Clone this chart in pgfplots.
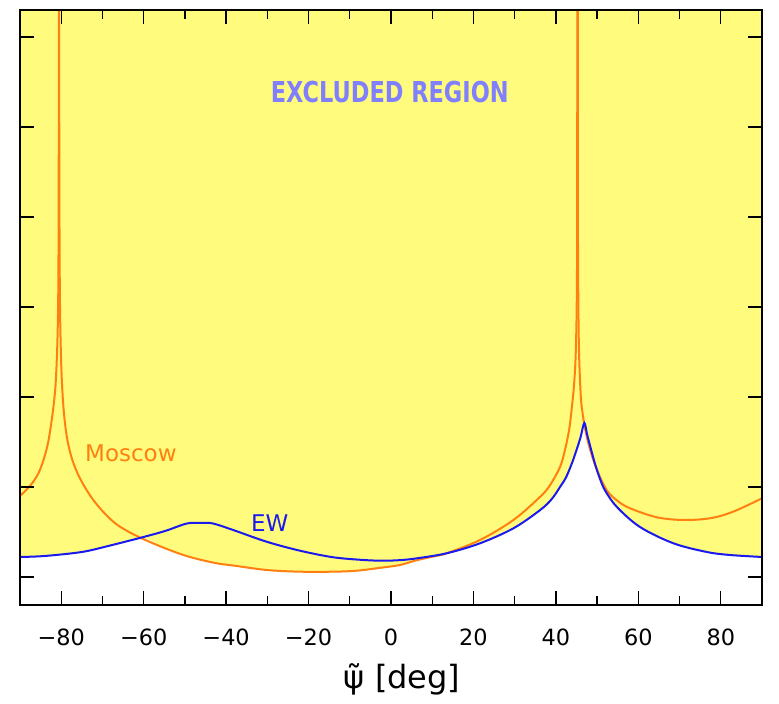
\documentclass[border=0pt]{standalone}
\usepackage{fontspec}
\setmainfont{DejaVu Sans}
\newfontfamily\condfont{DejaVu Sans}[FakeStretch=0.78]
\usepackage{pgfplots}
\pgfplotsset{compat=1.18}
\definecolor{excl}{HTML}{FFFB7D}
\definecolor{mos}{HTML}{FF8010}
\definecolor{ew}{HTML}{1A1AF0}
\definecolor{titlecol}{HTML}{8080FF}

\begin{document}
\begin{tikzpicture}
\begin{axis}[
  scale only axis, width=371pt, height=297.5pt,
  xmin=-90, xmax=90, ymin=0, ymax=595,
  xtick={-80,-60,-40,-20,0,20,40,60,80},
  xticklabels={−80,−60,−40,−20,0,20,40,60,80},
  minor x tick num=1,
  ytick={28,118,208,298,388,478,568},
  yticklabels={},
  major tick length=7pt, minor tick length=4.5pt,
  tick style={black, line width=0.7pt},
  axis line style={line width=0.9pt},
  axis background/.style={fill=excl},
  axis on top,
  xticklabel style={font=\fontsize{11.2}{13}\selectfont, anchor=base, yshift=-20.5pt},
  xlabel={ψ̃ [deg]},
  xlabel style={font=\fontsize{16}{18}\selectfont, at={(axis description cs:0.515,0)}, anchor=base, yshift=-42pt},
  every axis plot/.append style={smooth, tension=0.55},
]
% allowed region: below both curves
\addplot[fill=white, draw=none] coordinates {
  (-90,48) (-84,49) (-75,53) (-68.6,59) (-60.5,67)
  (-54.8,56.7) (-49.2,48.5) (-42.7,42) (-38.3,39.5) (-30.2,35) (-22.1,33.3)
  (-14,33.3) (-8.3,34.3) (-2,37.5) (2.2,40) (6,44.5) (10,48.3) (13.5,51.7)
  (21.6,61.7) (29.7,76.7) (36.2,95) (39,106) (41,118) (42.5,128) (44,143)
  (45,155) (46,168) (46.9,180) (47.5,168) (48.5,155) (49.5,140) (50.7,126)
  (52,114) (54.8,98) (60.4,78) (68.5,61.7) (76.6,53) (82.2,50) (90,48)
} \closedcycle;

% Moscow
\addplot[mos, line width=1pt] coordinates {
  (-90,109) (-88.5,115) (-87,122) (-85.5,132) (-84.3,145) (-83.2,162)
  (-82.3,185) (-81.7,205) (-81.3,225) (-80.95,260) (-80.75,300)
  (-80.65,360) (-80.6,450) (-80.57,620)
};
\addplot[mos, line width=1pt] coordinates {
  (-80.5,620) (-80.47,450) (-80.4,360) (-80.3,300) (-80.1,255) (-79.8,220)
  (-79.3,190) (-78.5,165) (-77.3,145) (-75.5,127) (-72.8,108.3) (-70,94)
  (-67,82) (-64,74) (-60.5,66.7) (-54.8,56.7) (-49.2,48.5) (-42.7,42)
  (-38.3,39.5) (-30.2,35) (-22.1,33.3) (-14,33.3) (-8.3,34.3) (-2,37.5)
  (2.2,40) (6,44.5) (10,48.3) (13.5,51.7) (21.6,65) (29.7,85) (36.2,108.3)
  (38.6,120) (41,138) (42.2,155) (43.2,175) (43.8,195) (44.4,220)
  (44.8,250) (45.05,300) (45.15,380) (45.2,620)
};
\addplot[mos, line width=1pt] coordinates {
  (45.3,620) (45.35,380) (45.45,300) (45.6,255) (45.9,220) (46.3,197)
  (47.5,168) (49.5,140) (52.3,115) (55,104) (58,96.7) (64.5,87.7)
  (70.9,85) (77.4,86.7) (83,93.3) (90,106.7)
};

% EW
\addplot[ew, line width=1pt] coordinates {
  (-90,48) (-84,49) (-75,53) (-68.6,59) (-60.5,67.5) (-54.8,74) (-49.5,81.5)
  (-46,82) (-43.2,81.5) (-38.3,75) (-30.2,63.3) (-22.1,54.3) (-14,47.7)
  (-6.7,45) (-2,44.3) (2,44.8) (6,46.5) (13.5,51.7) (21.6,61.7) (29.7,76.7)
  (36.2,95) (39,106) (41,118) (42.5,128) (44,143) (45,155) (46,168)
  (46.9,182) (47.6,170) (48.5,156) (49.5,141) (50.7,126) (52,114)
  (54.8,98) (60.4,78) (68.5,61.7) (76.6,53) (82.2,50) (90,48)
};

\node[text=titlecol, font=\condfont\bfseries\fontsize{14.4}{16}\selectfont] at (axis cs:-0.3,513) {EXCLUDED REGION};
\node[text=mos, font=\fontsize{11.5}{13}\selectfont] at (axis cs:-63.1,152) {Moscow};
\node[text=ew, font=\fontsize{11.5}{13}\selectfont] at (axis cs:-29.4,82) {EW};

\coordinate (sw) at (rel axis cs:0,0);
\coordinate (ne) at (rel axis cs:1,1);
\end{axis}
\pgfresetboundingbox
\path ([shift={(-10pt,-49.5pt)}]sw) rectangle ([shift={(8.5pt,5pt)}]ne);
\end{tikzpicture}
\end{document}
